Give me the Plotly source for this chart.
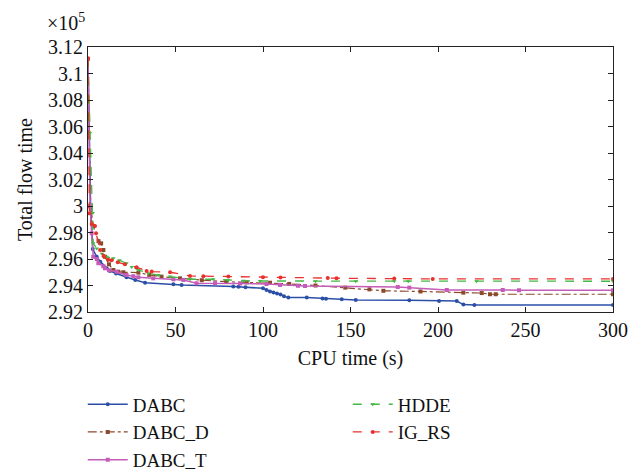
import plotly.graph_objects as go

# values in units of 1e5
dabc_x = [0, 1.5, 2.7, 5, 7, 10.7, 12.6, 16, 22, 27, 32.6, 48.8, 53.5, 83, 86, 90, 100, 102, 104, 106, 108, 110, 112, 114.5, 125, 134, 136, 145, 153, 183.6, 200.6, 210.7, 214.5, 220.8, 300]
dabc_y = [3.111, 2.999, 2.9675, 2.9617, 2.958, 2.953, 2.951, 2.949, 2.9462, 2.9442, 2.9421, 2.9410, 2.9404, 2.9392, 2.9390, 2.9387, 2.9379, 2.9366, 2.9355, 2.9348, 2.934, 2.9332, 2.9318, 2.9310, 2.9310, 2.9302, 2.9300, 2.9296, 2.9290, 2.9288, 2.9283, 2.9283, 2.9256, 2.9253, 2.9253]

dabcd_x = [0, 1.5, 3, 6, 7.5, 8.8, 9.7, 12, 14.5, 17.3, 20.2, 28.8, 35, 42, 52.6, 65, 79, 90.7, 104, 115, 130, 147, 160.8, 168.8, 190, 214.5, 225, 229.7, 233, 300]
dabcd_y = [3.111, 3.000, 2.985, 2.9735, 2.9718, 2.9668, 2.9617, 2.956, 2.9517, 2.9504, 2.9500, 2.9497, 2.948, 2.9467, 2.9454, 2.944, 2.9429, 2.9424, 2.9421, 2.9412, 2.940, 2.9384, 2.9371, 2.936, 2.9355, 2.9346, 2.9343, 2.9334, 2.9334, 2.9334]

dabct_x = [0, 1.2, 2.1, 3, 5, 5.9, 8.8, 9.7, 12, 16.4, 22, 25.9, 28.8, 37.3, 48.8, 54.5, 62, 72.6, 86.9, 102, 109.7, 120, 124, 177, 183.6, 205, 237, 246.3, 300]
dabct_y = [3.111, 3.000, 2.9794, 2.9617, 2.9600, 2.9568, 2.9545, 2.953, 2.9515, 2.9504, 2.9479, 2.9470, 2.9462, 2.9454, 2.9447, 2.9442, 2.9417, 2.9417, 2.9415, 2.9411, 2.9404, 2.9398, 2.9396, 2.9389, 2.9384, 2.9366, 2.9366, 2.9364, 2.9364]

hdde_x = [0, 1.1, 2.7, 3, 5, 8, 10.7, 14.5, 18, 22, 25, 28.8, 34.5, 40.2, 46.9, 58.3, 71.6, 80, 88.8, 98.3, 130, 153, 175, 183, 222, 300]
hdde_y = [3.111, 3.055, 2.9947, 2.9718, 2.968, 2.964, 2.9617, 2.9605, 2.959, 2.9568, 2.954, 2.9517, 2.9492, 2.9479, 2.9467, 2.9447, 2.9447, 2.944, 2.9436, 2.9434, 2.9433, 2.9432, 2.9432, 2.9432, 2.9432, 2.9432]

igrs_x = [0, 0.8, 2.1, 4, 4.6, 6.9, 9, 11.6, 13.5, 17, 21.1, 27.8, 33.5, 36.4, 46.9, 58.3, 65.9, 80.2, 100, 110, 137, 142, 175, 197, 300]
igrs_y = [3.1115, 2.9945, 2.9864, 2.9849, 2.9794, 2.9668, 2.962, 2.9595, 2.9590, 2.9575, 2.9560, 2.9537, 2.9510, 2.9505, 2.9500, 2.9472, 2.9470, 2.9467, 2.9462, 2.9460, 2.9456, 2.9455, 2.9452, 2.9450, 2.9450]

y_ticks = [2.92, 2.94, 2.96, 2.98, 3.0, 3.02, 3.04, 3.06, 3.08, 3.1, 3.12]
y_ticktext = ["2.92", "2.94", "2.96", "2.98", "3", "3.02", "3.04", "3.06", "3.08", "3.1", "3.12"]
x_ticks = [0, 50, 100, 150, 200, 250, 300]

FONT = "Liberation Serif"

fig = go.Figure()
series = [
    ("DABC", dabc_x, dabc_y, "#2c4fa6", "solid", "circle", 1.5, 1),
    ("DABC_D", dabcd_x, dabcd_y, "#8b4a2c", "dashdot", "square", 1.2, 3),
    ("DABC_T", dabct_x, dabct_y, "#c45cb8", "solid", "square", 1.5, 5),
    ("HDDE", hdde_x, hdde_y, "#44b844", "dash", "triangle-down", 1.3, 2),
    ("IG_RS", igrs_x, igrs_y, "#e8302c", "dash", "circle", 1.3, 4),
]
for name, xs, ys, color, dash, sym, w, rank in series:
    fig.add_trace(go.Scatter(
        x=xs, y=ys, name=name, mode="lines+markers",
        line=dict(color=color, dash=dash, width=w),
        marker=dict(color=color, symbol=sym, size=4),
        legendrank=rank,
    ))

axis_common = dict(
    showgrid=False, zeroline=False, showline=True, linecolor="#222", linewidth=1,
    mirror="ticks", ticks="inside", ticklen=5, tickcolor="#222", automargin=False,
    tickfont=dict(family=FONT, size=20, color="#111"),
)
fig.update_xaxes(range=[0, 300], tickvals=x_ticks,
                 title=dict(text="CPU time (s)", font=dict(family=FONT, size=20, color="#111"), standoff=10),
                 **axis_common)
fig.update_yaxes(range=[2.92, 3.12], tickvals=y_ticks, ticktext=y_ticktext,
                 title=dict(text="Total flow time", font=dict(family=FONT, size=20, color="#111"), standoff=10),
                 **axis_common)

fig.add_annotation(text="×10<sup>5</sup>", xref="paper", yref="paper", x=-0.082, y=1.094,
                   xanchor="left", yanchor="middle", showarrow=False,
                   font=dict(family=FONT, size=20, color="#111"))

fig.update_layout(
    width=629, height=473,
    margin=dict(l=88, r=16, t=47, b=161, autoexpand=False),
    plot_bgcolor="white", paper_bgcolor="white",
    legend=dict(orientation="h", x=-0.01, xanchor="left", y=-0.277, yanchor="top",
                entrywidth=210, entrywidthmode="pixels", tracegroupgap=0,
                font=dict(family=FONT, size=19, color="#111"), itemwidth=40),
    showlegend=True,
)

fig.write_html("out.html", config={"displayModeBar": False},
               post_script="document.body.style.margin='0';document.body.style.overflow='hidden';")
